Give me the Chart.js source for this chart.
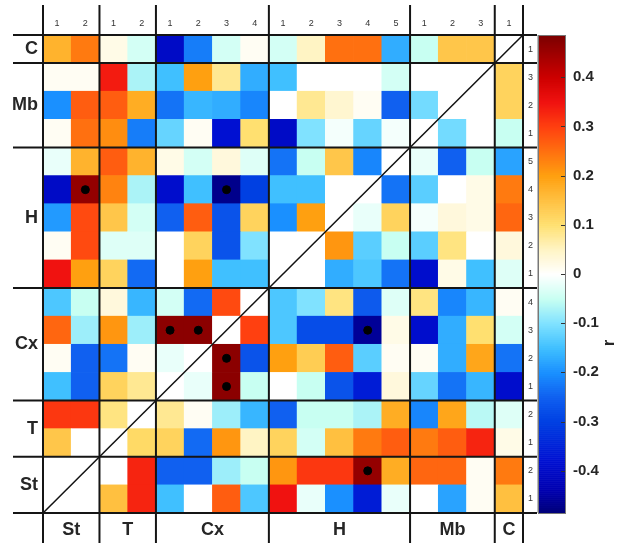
<!DOCTYPE html>
<html>
<head>
<meta charset="utf-8">
<script src="https://cdn.jsdelivr.net/npm/chart.js@4.4.1/dist/chart.umd.min.js"></script>
<style>
  html, body { margin: 0; padding: 0; background: #fff; }
</style>
</head>
<body>
<canvas id="chart" width="640" height="546"></canvas>
<script>
// variable groups, left to right / bottom to top
const groups = ["St", "T", "Cx", "H", "Mb", "C"];
const groupSizes = [2, 2, 4, 5, 3, 1];
const colSubLabels = ["1", "2", "1", "2", "1", "2", "3", "4", "1", "2", "3", "4", "5", "1", "2", "3", "1"];
const rowSubLabels = ["1", "3", "2", "1", "5", "4", "3", "2", "1", "4", "3", "2", "1", "2", "1", "2", "1"]; // top to bottom

const cbTicks = [0.4, 0.3, 0.2, 0.1, 0, -0.1, -0.2, -0.3, -0.4];
const cbTickLabels = ["0.4", "0.3", "0.2", "0.1", "0", "-0.1", "-0.2", "-0.3", "-0.4"];
const cbMin = -0.486;
const cbMax = 0.486;

// correlation r, one row each, top (C1) to bottom (St1); columns St1 ... C1
const rowC1  = [0.17, 0.24, 0.02, -0.04, -0.40, -0.22, -0.04, 0.01, -0.04, 0.05, 0.25, 0.25, -0.17, -0.05, 0.14, 0.14, 0];
const rowMb3 = [0.01, 0.01, 0.34, -0.07, -0.15, 0.20, 0.08, -0.17, -0.15, 0.00, 0.00, 0.00, -0.04, 0.00, 0.00, 0, 0.12];
const rowMb2 = [-0.20, 0.27, 0.27, 0.18, -0.23, -0.16, -0.17, -0.21, 0.00, 0.08, 0.04, 0.01, -0.25, -0.11, 0, 0.00, 0.12];
const rowMb1 = [0.01, 0.25, 0.22, -0.22, -0.12, 0.01, -0.38, 0.10, -0.40, -0.10, -0.01, -0.12, -0.01, 0, -0.11, 0.00, -0.05];
const rowH5  = [-0.02, 0.17, 0.27, 0.17, 0.02, -0.04, 0.03, -0.03, -0.23, -0.05, 0.14, -0.21, 0, -0.02, -0.25, -0.05, -0.18];
const rowH4  = [-0.40, 0.46, 0.23, -0.07, -0.39, -0.15, -0.47, -0.30, -0.15, -0.15, 0.00, 0, -0.23, -0.13, 0.00, 0.02, 0.24];
const rowH3  = [-0.19, 0.29, 0.14, -0.04, -0.25, 0.27, -0.27, 0.12, -0.20, 0.20, 0, -0.02, 0.12, -0.01, 0.03, 0.02, 0.26];
const rowH2  = [0.01, 0.29, -0.03, -0.03, 0.00, 0.12, -0.27, -0.10, 0.00, 0, 0.21, -0.13, -0.05, -0.13, 0.09, 0.00, 0.03];
const rowH1  = [0.35, 0.20, 0.12, -0.24, 0.00, 0.20, -0.15, -0.15, 0, 0.00, -0.17, -0.14, -0.23, -0.39, 0.02, -0.15, -0.03];
const rowCx4 = [-0.14, -0.05, 0.03, -0.16, -0.04, -0.24, 0.29, 0, -0.14, -0.10, 0.09, -0.26, -0.03, 0.09, -0.21, -0.16, 0.01];
const rowCx3 = [0.26, -0.08, 0.21, -0.08, 0.47, 0.47, 0, 0.30, -0.14, -0.28, -0.28, -0.46, 0.02, -0.39, -0.17, 0.10, -0.04];
const rowCx2 = [0.01, -0.25, -0.23, 0.01, -0.02, 0, 0.47, -0.27, 0.20, 0.13, 0.27, -0.13, 0.01, 0.01, -0.17, 0.19, -0.23];
const rowCx1 = [-0.15, -0.25, 0.12, 0.08, 0, -0.02, 0.47, -0.05, 0.00, -0.05, -0.27, -0.36, 0.03, -0.12, -0.23, -0.16, -0.39];
const rowT2  = [0.31, 0.31, 0.09, 0, 0.08, 0.01, -0.08, -0.16, -0.25, -0.05, -0.05, -0.07, 0.18, -0.21, 0.19, -0.06, -0.03];
const rowT1  = [0.14, 0.00, 0, 0.11, 0.12, -0.24, 0.21, 0.05, 0.12, -0.04, 0.15, 0.24, 0.27, 0.24, 0.27, 0.33, 0.02];
const rowSt2 = [0.00, 0, 0.00, 0.33, -0.25, -0.25, -0.08, -0.05, 0.21, 0.31, 0.31, 0.46, 0.18, 0.26, 0.26, 0.01, 0.24];
const rowSt1 = [0, 0.00, 0.15, 0.33, -0.15, 0.00, 0.27, -0.14, 0.35, -0.02, -0.20, -0.36, -0.02, 0.00, -0.18, 0.01, 0.15];

const rows = [rowC1, rowMb3, rowMb2, rowMb1, rowH5, rowH4, rowH3, rowH2, rowH1,
  rowCx4, rowCx3, rowCx2, rowCx1, rowT2, rowT1, rowSt2, rowSt1];

// significant cells [row from top, column]
const sigCells = [[5, 1], [5, 6], [10, 4], [10, 5], [10, 11], [11, 6], [12, 6], [15, 11]];

const N = colSubLabels.length;

// blue-white-red colormap
const cmap = [
  [-0.49, [0, 0, 115]], [-0.44, [0, 0, 175]], [-0.38, [0, 16, 210]], [-0.30, [0, 64, 226]],
  [-0.25, [16, 96, 240]], [-0.20, [26, 144, 255]], [-0.15, [64, 192, 255]], [-0.10, [128, 226, 255]],
  [-0.05, [200, 255, 242]], [0, [255, 255, 255]], [0.05, [255, 244, 196]], [0.10, [255, 224, 112]],
  [0.15, [255, 192, 64]], [0.20, [255, 160, 16]], [0.25, [255, 112, 16]], [0.30, [255, 64, 16]],
  [0.35, [240, 18, 16]], [0.40, [205, 0, 0]], [0.49, [120, 0, 0]]
];

function colorFor(v) {
  if (v <= cmap[0][0]) return rgb(cmap[0][1]);
  for (let i = 1; i < cmap.length; i++) {
    if (v <= cmap[i][0]) {
      const [v0, c0] = cmap[i - 1];
      const [v1, c1] = cmap[i];
      const t = (v - v0) / (v1 - v0);
      return rgb(c0.map((a, k) => a + (c1[k] - a) * t));
    }
  }
  return rgb(cmap[cmap.length - 1][1]);
}
function rgb(c) {
  return `rgb(${Math.round(c[0])},${Math.round(c[1])},${Math.round(c[2])})`;
}

const bounds = [0];
groupSizes.forEach((s) => bounds.push(bounds[bounds.length - 1] + s));
const groupCenters = groups.map((g, i) => (bounds[i] + bounds[i + 1]) / 2);

const cells = [];
const cellColors = [];
rows.forEach((vals, r) => {
  vals.forEach((v, c) => {
    cells.push({ x: c + 0.5, y: [N - 1 - r, N - r] });
    cellColors.push(colorFor(v));
  });
});
const dots = sigCells.map(([r, c]) => ({ x: c + 0.5, y: N - r - 0.5 }));

const FONT = "'Liberation Sans', Arial, sans-serif";
const TXT = "#262626";
Chart.defaults.font.family = FONT;
Chart.defaults.color = TXT;

const decor = {
  id: "decor",
  afterDatasetsDraw(chart) {
    const { ctx, scales } = chart;
    const { x, y, cb } = scales;
    ctx.save();

    // colour bar
    const cbL = cb.left + 1;
    const cbW = 27;
    const steps = 240;
    for (let i = 0; i < steps; i++) {
      const v0 = cbMin + (cbMax - cbMin) * i / steps;
      const v1 = cbMin + (cbMax - cbMin) * (i + 1) / steps;
      const p0 = cb.getPixelForValue(v0);
      const p1 = cb.getPixelForValue(v1);
      ctx.fillStyle = colorFor((v0 + v1) / 2);
      ctx.fillRect(cbL, p1, cbW, p0 - p1 + 0.6);
    }
    ctx.strokeStyle = "#777";
    ctx.lineWidth = 1;
    ctx.strokeRect(cbL + 0.5, cb.top + 0.5, cbW, cb.bottom - cb.top);
    ctx.strokeStyle = "#333";
    cbTicks.forEach((t) => {
      const p = Math.round(cb.getPixelForValue(t)) + 0.5;
      ctx.beginPath();
      ctx.moveTo(cbL + cbW - 4, p);
      ctx.lineTo(cbL + cbW, p);
      ctx.stroke();
    });

    // right label strip edge
    ctx.strokeStyle = "#bbb";
    ctx.beginPath();
    ctx.moveTo(cb.left + 0.5, y.top);
    ctx.lineTo(cb.left + 0.5, y.bottom);
    ctx.stroke();

    // group separators
    ctx.strokeStyle = "#151515";
    ctx.lineWidth = 2;
    bounds.forEach((b) => {
      const px = x.getPixelForValue(b);
      ctx.beginPath();
      ctx.moveTo(px, 5);
      ctx.lineTo(px, 543);
      ctx.stroke();
      const py = y.getPixelForValue(b);
      ctx.beginPath();
      ctx.moveTo(13, py);
      ctx.lineTo(cb.left, py);
      ctx.stroke();
    });

    // colour bar label
    ctx.fillStyle = TXT;
    ctx.font = "bold 17px " + FONT;
    ctx.translate(cb.right - 14, cb.getPixelForValue(-0.14));
    ctx.rotate(-Math.PI / 2);
    ctx.textAlign = "center";
    ctx.textBaseline = "middle";
    ctx.fillText("r", 0, 0);
    ctx.restore();
  }
};

function setTicks(values) {
  return (scale) => { scale.ticks = values.map((v) => ({ value: v })); };
}
function fixSize(w, h) {
  return (s) => {
    if (w !== null) s.width = w;
    if (h !== null) s.height = h;
    s.paddingTop = 0;
    s.paddingBottom = 0;
    s.paddingLeft = 0;
    s.paddingRight = 0;
  };
}

const hidden = { display: false };

new Chart(document.getElementById("chart"), {
  type: "bar",
  data: {
    datasets: [
      {
        type: "scatter",
        data: dots,
        backgroundColor: "#000",
        borderColor: "#000",
        pointRadius: 4,
        order: 1
      },
      {
        type: "line",
        data: [{ x: 0, y: 0 }, { x: N, y: N }],
        borderColor: "#111",
        borderWidth: 1.5,
        pointRadius: 0,
        order: 2
      },
      {
        type: "bar",
        data: cells,
        backgroundColor: cellColors,
        borderWidth: 0,
        barPercentage: 1,
        categoryPercentage: 1,
        order: 3
      }
    ]
  },
  options: {
    responsive: false,
    devicePixelRatio: 1,
    animation: false,
    layout: { padding: { left: 0, right: 17, top: 0, bottom: 0 } },
    plugins: { legend: hidden, tooltip: { enabled: false } },
    scales: {
      x: {
        type: "linear", position: "bottom", min: 0, max: N, offset: false,
        grid: { display: false, drawTicks: false }, border: hidden,
        afterBuildTicks: setTicks(groupCenters),
        afterFit: fixSize(null, 33),
        ticks: {
          autoSkip: false, maxRotation: 0, padding: 6,
          font: { size: 18, weight: "bold" },
          callback: (v, i) => groups[i]
        }
      },
      xTop: {
        type: "linear", position: "top", min: 0, max: N, offset: false,
        grid: { display: false, drawTicks: false }, border: hidden,
        afterBuildTicks: setTicks(colSubLabels.map((l, i) => i + 0.5)),
        afterFit: fixSize(null, 35),
        ticks: {
          autoSkip: false, maxRotation: 0, padding: 6,
          font: { size: 9 }, color: "#333",
          callback: (v, i) => colSubLabels[i]
        }
      },
      y: {
        type: "linear", position: "left", min: 0, max: N,
        grid: { display: false, drawTicks: false }, border: hidden,
        afterBuildTicks: setTicks(groupCenters),
        afterFit: fixSize(43, null),
        ticks: {
          autoSkip: false, padding: 5,
          font: { size: 18, weight: "bold" },
          callback: (v, i) => groups[i]
        }
      },
      yR: {
        type: "linear", position: "right", min: 0, max: N,
        grid: { display: false, drawTicks: false }, border: hidden,
        afterBuildTicks: setTicks(rowSubLabels.map((l, i) => N - i - 0.5).reverse()),
        afterFit: fixSize(14, null),
        ticks: {
          autoSkip: false, padding: 5,
          font: { size: 9 }, color: "#333",
          callback: (v, i) => rowSubLabels[N - 1 - i]
        }
      },
      cb: {
        type: "linear", position: "right", min: cbMin, max: cbMax,
        grid: { display: false, drawTicks: false }, border: hidden,
        afterBuildTicks: setTicks(cbTicks.slice().reverse()),
        afterFit: fixSize(86, null),
        ticks: {
          autoSkip: false, padding: 36,
          font: { size: 15, weight: "bold" },
          callback: (v, i) => cbTickLabels[cbTicks.length - 1 - i]
        }
      }
    }
  },
  plugins: [decor]
});
</script>
</body>
</html>
